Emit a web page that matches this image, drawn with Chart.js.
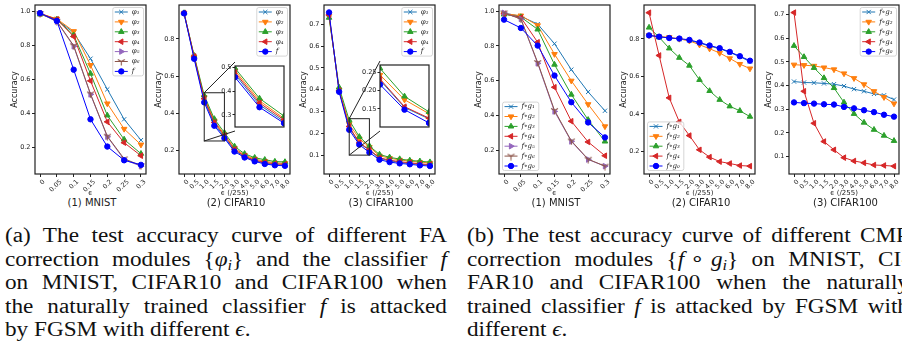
<!DOCTYPE html>
<html>
<head>
<meta charset="utf-8">
<script src="https://cdn.jsdelivr.net/npm/chart.js@4/dist/chart.umd.min.js"></script>
<style>
  html, body { margin: 0; padding: 0; background: #fff; }
  #page { position: relative; width: 902px; height: 349px; overflow: hidden; }
  #page canvas { position: absolute; }
  .sub { position: absolute; top: 197px; width: 140px; text-align: center; font: 10px "DejaVu Sans"; line-height: 12px; color: #222; }
  .cap { position: absolute; top: 224px; width: 381px; font-family: "Liberation Serif"; font-size: 20px; line-height: 23.5px; color: #111;
         transform: scaleX(1.16); transform-origin: 0 0; }
  .cap div { text-align: justify; text-align-last: justify; }
  .cap div.last { text-align-last: left; }
  .cap sub { font-size: 70%; line-height: 0; vertical-align: -0.25em; }
  .cap .m { display: inline-block; }
</style>
</head>
<body>
<div id="page">
  <div class="cap" style="left:5px">
    <div>(a) The test accuracy curve of different FA</div>
    <div>correction modules <span class="m">{<i>φ<sub>i</sub></i>}</span> and the classifier <i>f</i></div>
    <div>on MNIST, CIFAR10 and CIFAR100 when</div>
    <div>the naturally trained classifier <i>f</i> is attacked</div>
    <div class="last">by FGSM with different <i>ϵ</i>.</div>
  </div>
  <div class="cap" style="left:467px">
    <div>(b) The test accuracy curve of different CMP</div>
    <div>correction modules <span class="m">{<i>f</i> ∘ <i>g<sub>i</sub></i>}</span> on MNIST, CI-</div>
    <div>FAR10 and CIFAR100 when the naturally</div>
    <div>trained classifier <i>f</i> is attacked by FGSM with</div>
    <div class="last">different <i>ϵ</i>.</div>
  </div>
</div>
<script>
var mnistEps = ['0', '0.05', '0.1', '0.15', '0.2', '0.25', '0.3'];
var cifarEps = ['0', '0.5', '1.0', '1.5', '2.0', '3.0', '4.0', '5.0', '6.0', '7.0', '8.0'];

// (a) FA correction modules phi_i and the classifier f
var mnistPhi1 = [0.99, 0.954, 0.877, 0.723, 0.542, 0.365, 0.242];
var mnistPhi2 = [0.99, 0.958, 0.885, 0.685, 0.458, 0.308, 0.215];
var mnistPhi3 = [0.985, 0.955, 0.862, 0.635, 0.388, 0.246, 0.162];
var mnistPhi4 = [0.99, 0.955, 0.854, 0.592, 0.35, 0.227, 0.15];
var mnistPhi5 = [0.99, 0.942, 0.796, 0.512, 0.262, 0.127, 0.088];
var mnistPhi6 = [0.99, 0.944, 0.80, 0.515, 0.265, 0.132, 0.092];
var mnistF = [0.992, 0.946, 0.658, 0.365, 0.204, 0.123, 0.096];

var c10Phi1 = [0.938, 0.70, 0.47, 0.342, 0.272, 0.20, 0.165, 0.144, 0.131, 0.123, 0.12];
var c10Phi2 = [0.94, 0.705, 0.486, 0.359, 0.285, 0.212, 0.174, 0.153, 0.141, 0.132, 0.13];
var c10Phi3 = [0.94, 0.71, 0.496, 0.369, 0.295, 0.221, 0.181, 0.16, 0.149, 0.139, 0.137];
var c10Phi4 = [0.94, 0.706, 0.478, 0.35, 0.279, 0.205, 0.168, 0.147, 0.135, 0.127, 0.124];
var c10F = [0.938, 0.693, 0.458, 0.332, 0.265, 0.193, 0.161, 0.14, 0.126, 0.119, 0.116];

var c100Phi1 = [0.745, 0.393, 0.228, 0.154, 0.123, 0.085, 0.074, 0.067, 0.062, 0.058, 0.055];
var c100Phi2 = [0.738, 0.40, 0.242, 0.175, 0.137, 0.097, 0.086, 0.078, 0.072, 0.068, 0.064];
var c100Phi3 = [0.73, 0.41, 0.26, 0.184, 0.142, 0.103, 0.09, 0.082, 0.076, 0.072, 0.068];
var c100Phi4 = [0.742, 0.395, 0.231, 0.156, 0.125, 0.088, 0.077, 0.07, 0.065, 0.06, 0.057];
var c100F = [0.754, 0.39, 0.216, 0.148, 0.112, 0.079, 0.068, 0.062, 0.058, 0.053, 0.05];

// (b) CMP correction modules f o g_i
var mnistG1 = [0.989, 0.97, 0.925, 0.813, 0.664, 0.536, 0.428];
var mnistG2 = [0.985, 0.974, 0.918, 0.753, 0.60, 0.465, 0.338];
var mnistG3 = [0.981, 0.966, 0.895, 0.693, 0.521, 0.376, 0.252];
var mnistG4 = [0.985, 0.963, 0.821, 0.563, 0.368, 0.249, 0.17];
var mnistG5 = [0.99, 0.955, 0.70, 0.424, 0.252, 0.148, 0.11];
var mnistG6 = [0.99, 0.955, 0.705, 0.43, 0.255, 0.15, 0.11];
var mnistG0 = [0.951, 0.903, 0.802, 0.63, 0.477, 0.361, 0.275];

var c10G1 = [0.818, 0.811, 0.806, 0.80, 0.792, 0.778, 0.762, 0.748, 0.728, 0.705, 0.68];
var c10G2 = [0.819, 0.812, 0.809, 0.80, 0.79, 0.769, 0.748, 0.725, 0.696, 0.666, 0.642];
var c10G3 = [0.861, 0.809, 0.75, 0.70, 0.658, 0.582, 0.523, 0.476, 0.441, 0.417, 0.386];
var c10G4 = [0.94, 0.712, 0.486, 0.358, 0.285, 0.209, 0.17, 0.146, 0.136, 0.125, 0.122];
var c10G0 = [0.819, 0.812, 0.805, 0.802, 0.795, 0.781, 0.765, 0.751, 0.731, 0.708, 0.684];

var c100G1 = [0.417, 0.413, 0.412, 0.409, 0.406, 0.398, 0.385, 0.376, 0.365, 0.359, 0.341];
var c100G2 = [0.488, 0.486, 0.483, 0.476, 0.468, 0.451, 0.431, 0.405, 0.376, 0.351, 0.324];
var c100G3 = [0.568, 0.521, 0.475, 0.432, 0.39, 0.329, 0.281, 0.244, 0.214, 0.189, 0.167];
var c100G4 = [0.708, 0.376, 0.241, 0.164, 0.129, 0.096, 0.082, 0.074, 0.065, 0.063, 0.06];
var c100G0 = [0.329, 0.326, 0.324, 0.321, 0.32, 0.31, 0.304, 0.296, 0.288, 0.277, 0.269];

Chart.defaults.font.family = '"DejaVu Sans", sans-serif';
Chart.defaults.color = '#222';
Chart.defaults.animation = false;
Chart.defaults.events = [];
Chart.defaults.plugins.legend.display = false;
Chart.defaults.plugins.tooltip.enabled = false;

// matplotlib's tri_down marker, no built-in Chart.js equivalent
function triDown(color) {
  var c = document.createElement('canvas');
  c.width = 9; c.height = 9;
  var g = c.getContext('2d');
  g.strokeStyle = color;
  g.lineWidth = 1.1;
  g.beginPath();
  g.moveTo(4.5, 4.5); g.lineTo(4.5, 8.5);
  g.moveTo(4.5, 4.5); g.lineTo(1, 2.5);
  g.moveTo(4.5, 4.5); g.lineTo(8, 2.5);
  g.stroke();
  return c;
}

var STYLES = {
  s1: {color: '#1f77b4', point: 'crossRot', rot: 0, r: 3},
  s2: {color: '#ff7f0e', point: 'triangle', rot: 180, r: 3.2},
  s3: {color: '#2ca02c', point: 'triangle', rot: 0, r: 3.2},
  s4: {color: '#d62728', point: 'triangle', rot: 270, r: 3.2},
  s5: {color: '#9467bd', point: 'triangle', rot: 90, r: 3.2},
  s6: {color: '#8c564b', point: triDown('#8c564b'), rot: 0, r: 3},
  f:  {color: '#0000ff', point: 'circle', rot: 0, r: 2.7}
};

var panels = [
  {left: 35, right: 149, labels: mnistEps, yMin: 0.042, yMax: 1.04, yStep: 0.2, xTitle: 'ϵ', legend: 'tr', sub: '(1) MNIST',
   series: [['φ₁', mnistPhi1, 's1'], ['φ₂', mnistPhi2, 's2'], ['φ₃', mnistPhi3, 's3'], ['φ₄', mnistPhi4, 's4'],
            ['φ₅', mnistPhi5, 's5'], ['φ₆', mnistPhi6, 's6'], ['f', mnistF, 'f']]},
  {left: 179, right: 293, labels: cifarEps, yMin: 0.072, yMax: 0.983, yStep: 0.2, xTitle: 'ϵ (/255)', legend: 'tr', sub: '(2) CIFAR10',
   series: [['φ₁', c10Phi1, 's1'], ['φ₂', c10Phi2, 's2'], ['φ₃', c10Phi3, 's3'], ['φ₄', c10Phi4, 's4'], ['f', c10F, 'f']],
   inset: {left: 235, top: 62, w: 52, h: 69, yMin: 0.249, yMax: 0.505, yStep: 0.1, rectMin: 0.25, rectMax: 0.51}},
  {left: 324, right: 438, labels: cifarEps, yMin: 0.0135, yMax: 0.788, yStep: 0.1, xTitle: 'ϵ (/255)', legend: 'tr', sub: '(3) CIFAR100',
   series: [['φ₁', c100Phi1, 's1'], ['φ₂', c100Phi2, 's2'], ['φ₃', c100Phi3, 's3'], ['φ₄', c100Phi4, 's4'], ['f', c100F, 'f']],
   inset: {left: 380, top: 61, w: 52, h: 70, yMin: 0.101, yMax: 0.269, yStep: 0.05, rectMin: 0.1, rectMax: 0.267}},
  {left: 499, right: 613, labels: mnistEps, yMin: 0.065, yMax: 1.035, yStep: 0.2, xTitle: 'ϵ', legend: 'bl', sub: '(1) MNIST',
   series: [['f∘g₁', mnistG1, 's1'], ['f∘g₂', mnistG2, 's2'], ['f∘g₃', mnistG3, 's3'], ['f∘g₄', mnistG4, 's4'],
            ['f∘g₅', mnistG5, 's5'], ['f∘g₆', mnistG6, 's6'], ['f∘g₀', mnistG0, 'f']]},
  {left: 644, right: 758, labels: cifarEps, yMin: 0.08, yMax: 0.981, yStep: 0.2, xTitle: 'ϵ (/255)', legend: 'bl', sub: '(2) CIFAR10',
   series: [['f∘g₁', c10G1, 's1'], ['f∘g₂', c10G2, 's2'], ['f∘g₃', c10G3, 's3'], ['f∘g₄', c10G4, 's4'], ['f∘g₀', c10G0, 'f']]},
  {left: 789, right: 902, labels: cifarEps, yMin: 0.027, yMax: 0.74, yStep: 0.1, xTitle: 'ϵ (/255)', legend: 'tr', sub: '(3) CIFAR100',
   series: [['f∘g₁', c100G1, 's1'], ['f∘g₂', c100G2, 's2'], ['f∘g₃', c100G3, 's3'], ['f∘g₄', c100G4, 's4'], ['f∘g₀', c100G0, 'f']]}
];

var framePlugin = {
  id: 'frame',
  afterDatasetsDraw: function (chart) {
    var a = chart.chartArea, ctx = chart.ctx;
    ctx.save();
    ctx.strokeStyle = '#222';
    ctx.lineWidth = 1.2;
    ctx.strokeRect(a.left, a.top, a.right - a.left, a.bottom - a.top);
    ctx.restore();
  }
};

var whiteAreaPlugin = {
  id: 'whiteArea',
  beforeDraw: function (chart) {
    var a = chart.chartArea;
    chart.ctx.fillStyle = '#fff';
    chart.ctx.fillRect(a.left, a.top, a.right - a.left, a.bottom - a.top);
  }
};

// zoom rectangle plus the two lines to the inset's left corners
var insetMarkPlugin = {
  id: 'insetMark',
  afterDatasetsDraw: function (chart, args, o) {
    var xs = chart.scales.x, ys = chart.scales.y, ctx = chart.ctx;
    var l = xs.getPixelForValue(2), r = xs.getPixelForValue(4);
    var t = ys.getPixelForValue(o.yMax), b = ys.getPixelForValue(o.yMin);
    ctx.save();
    ctx.strokeStyle = '#222';
    ctx.lineWidth = 1;
    ctx.strokeRect(l, t, r - l, b - t);
    ctx.beginPath();
    ctx.moveTo(l, t); ctx.lineTo(o.boxLeft, o.boxTop);
    ctx.moveTo(l, b); ctx.lineTo(o.boxLeft, o.boxTop + o.boxH);
    ctx.stroke();
    ctx.restore();
  }
};

var boxLegendPlugin = {
  id: 'boxLegend',
  afterDraw: function (chart, args, o) {
    var ctx = chart.ctx, a = chart.chartArea, sets = chart.data.datasets;
    var rowH = 9.9;
    ctx.save();
    ctx.font = 'italic 7px "DejaVu Serif"';
    var tw = 0;
    sets.forEach(function (d) { tw = Math.max(tw, ctx.measureText(d.label).width); });
    var w = 19 + tw + 4, h = (sets.length - 1) * rowH + 9;
    var x = o.corner === 'tr' ? a.right - 2.5 - w : a.left + 3.5;
    var y = o.corner === 'tr' ? a.top + 2.5 : a.bottom - 3.5 - h;
    ctx.fillStyle = 'rgba(255,255,255,0.8)';
    ctx.strokeStyle = '#ccc';
    ctx.lineWidth = 0.8;
    ctx.beginPath();
    ctx.roundRect(x, y, w, h, 2);
    ctx.fill();
    ctx.stroke();
    sets.forEach(function (d, i) {
      var cy = y + 4.5 + i * rowH;
      ctx.strokeStyle = d.borderColor;
      ctx.fillStyle = d.borderColor;
      ctx.lineWidth = 1;
      ctx.beginPath();
      ctx.moveTo(x + 2, cy); ctx.lineTo(x + 15, cy);
      ctx.stroke();
      Chart.helpers.drawPoint(ctx, {pointStyle: d.pointStyle, rotation: d.pointRotation, radius: d.pointRadius, borderWidth: 1}, x + 8.5, cy);
      ctx.fillStyle = '#222';
      ctx.textBaseline = 'middle';
      ctx.fillText(d.label, x + 19, cy);
    });
    ctx.restore();
  }
};

function makeSets(p, clip) {
  var n = p.series.length;
  return p.series.map(function (s, i) {
    var st = STYLES[s[2]];
    var d = {
      label: s[0],
      data: s[1].map(function (v, k) { return {x: k, y: v}; }),
      borderColor: st.color,
      backgroundColor: st.color,
      pointBackgroundColor: st.color,
      borderWidth: 1,
      pointStyle: st.point,
      pointRotation: st.rot,
      pointRadius: st.r,
      pointBorderWidth: 1,
      order: n - i
    };
    if (clip !== undefined) d.clip = clip;
    return d;
  });
}

function addCanvas(left, top, w, h) {
  var c = document.createElement('canvas');
  c.width = Math.round(w);
  c.height = Math.round(h);
  c.style.left = left + 'px';
  c.style.top = top + 'px';
  document.getElementById('page').appendChild(c);
  return c;
}

function drawPanel(p) {
  var yW = 30;
  var canvasLeft = p.left - yW;
  var c = addCanvas(canvasLeft, 0, yW + (p.right - p.left) + 2, 197);
  var labels = p.labels;
  var pad = labels.length === 7 ? 0.3 : 0.5;
  var plugins = [framePlugin, boxLegendPlugin];
  var pluginOpts = {boxLegend: {corner: p.legend}};
  if (p.inset) {
    plugins.push(insetMarkPlugin);
    pluginOpts.insetMark = {yMin: p.inset.rectMin, yMax: p.inset.rectMax,
      boxLeft: p.inset.left - canvasLeft, boxTop: p.inset.top, boxH: p.inset.h};
  }
  new Chart(c, {
    type: 'line',
    data: {datasets: makeSets(p)},
    options: {
      responsive: false,
      layout: {padding: {top: 1, right: 2, left: 0, bottom: 0}},
      scales: {
        x: {
          type: 'linear', min: -pad, max: labels.length - 1 + pad,
          afterBuildTicks: function (s) { s.ticks = labels.map(function (_, i) { return {value: i}; }); },
          afterFit: function (s) { s.height = 23; s.paddingLeft = 0; s.paddingRight = 0; },
          grid: {drawOnChartArea: false, tickLength: 3, color: '#222'},
          border: {display: false},
          ticks: {minRotation: 45, maxRotation: 45, autoSkip: false, padding: 1, labelOffset: 4,
                  font: {size: 6.5}, callback: function (v, i) { return labels[i]; }},
          title: {display: true, text: p.xTitle, font: {size: 7}, padding: 0}
        },
        y: {
          type: 'linear', min: p.yMin, max: p.yMax,
          afterFit: function (s) { s.width = yW; s.paddingTop = 0; s.paddingBottom = 0; },
          grid: {drawOnChartArea: false, tickLength: 3, color: '#222'},
          border: {display: false},
          ticks: {stepSize: p.yStep, includeBounds: false, padding: 1.5, font: {size: 6.5},
                  callback: function (v) { return v.toFixed(1); }},
          title: {display: true, text: 'Accuracy', font: {size: 8}, padding: {top: 4.7, bottom: 0}}
        }
      },
      plugins: pluginOpts
    },
    plugins: plugins
  });

  var sub = document.createElement('div');
  sub.className = 'sub';
  sub.textContent = p.sub;
  sub.style.left = ((p.left + p.right) / 2 - 70) + 'px';
  document.getElementById('page').appendChild(sub);
}

function drawInset(p) {
  var b = p.inset, lw = 22;
  var c = addCanvas(b.left - lw, b.top - 1, lw + b.w + 2, b.h + 2);
  new Chart(c, {
    type: 'line',
    data: {datasets: makeSets(p, 0)},
    options: {
      responsive: false,
      layout: {padding: {top: 1, right: 2, left: 0, bottom: 1}},
      scales: {
        x: {type: 'linear', min: 2, max: 4, display: false},
        y: {
          type: 'linear', min: b.yMin, max: b.yMax,
          afterFit: function (s) { s.width = lw; s.paddingTop = 0; s.paddingBottom = 0; },
          grid: {drawOnChartArea: false, tickLength: 2.5, color: '#222'},
          border: {display: false},
          ticks: {stepSize: b.yStep, includeBounds: false, padding: 1, font: {size: 6.5},
                  callback: function (v) { return b.yStep < 0.1 ? v.toFixed(2) : v.toFixed(1); }}
        }
      }
    },
    plugins: [whiteAreaPlugin, framePlugin]
  });
}

panels.forEach(drawPanel);
panels.forEach(function (p) { if (p.inset) drawInset(p); });
</script>
</body>
</html>
